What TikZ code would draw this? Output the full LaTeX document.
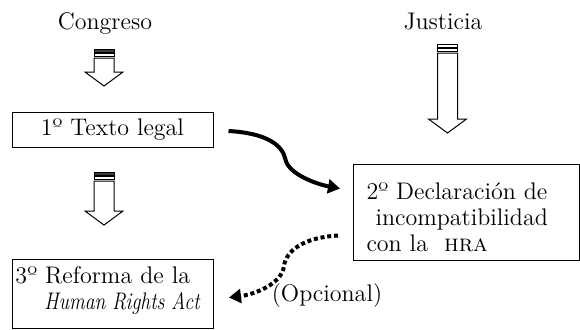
\documentclass[tikz,border=0pt]{standalone}
\usepackage{graphicx}
\usepackage{tikz}
\usetikzlibrary{arrows.meta,calc}
\definecolor{bandagris}{RGB}{60,60,60}

\tikzset{
  caja/.style={draw,line width=0.5pt,inner ysep=0pt,align=left},
  curva/.style={line width=2pt,-{Triangle[length=6pt,width=7pt]}},
  punteada/.style={curva,dash pattern=on 2pt off 1.4pt},
  bloque/.style={draw,line width=0.5pt,fill=white}
}
% flecha de bloque: x, arriba, punta, relleno de la banda
\newcommand{\flecha}[4]{%
  \draw[bloque,fill=#4] (#1-10,#2) rectangle (#1+10,#2+3);
  \draw[bloque] (#1-10,#2+4) rectangle (#1+10,#2+7);
  \draw[bloque] (#1-10,#2+9) -- (#1+10,#2+9) -- (#1+10,#3-14) -- (#1+19,#3-14)
    -- (#1,#3) -- (#1-19,#3-14) -- (#1-10,#3-14) -- cycle;
}

\begin{document}
\begin{tikzpicture}[x=0.5pt,y=-0.5pt,font=\fontsize{12}{13}\selectfont]
\useasboundingbox (0,0) rectangle (580,329);

\node (congreso) at (105,24) {Congreso};
\node (justicia) at (443,22) {Justicia};

\node [caja,align=center,inner ysep=0pt,minimum width=100.5pt,minimum height=17.5pt]
  (texto) at (112.5,129.5) {1º Texto legal};
\node [caja,anchor=north west,inner xsep=6.5pt,text width=100pt,text height=17.5pt,text depth=30.5pt]
  (declaracion) at (353,164)
  {2º Declaración de\\\hspace*{4.5pt}incompatibilidad\\con la \ \textsc{hra}};
\node [caja,anchor=north west,inner xsep=1.5pt,text width=97.5pt,text height=12pt,text depth=22.5pt]
  (reforma) at (12,259)
  {3º Reforma de la\\\hspace*{14.5pt}\scalebox{0.82}[1]{\emph{Human Rights Act}}};

\flecha{104}{49}{86}{bandagris}
\flecha{104}{172}{225}{bandagris}
\flecha{447.5}{44}{133}{white}

\draw[curva] ($(texto.east)+(15,1.5)$) .. controls +(37,2) and +(-3,-15) .. ($(texto.east)+(72,30)$)
  .. controls +(3,15) and +(-22,-4) .. ($(declaracion.west)+(-13,-24)$);
\draw[punteada] ($(declaracion.west)+(-15,23)$) .. controls +(-35,2) and +(2,-15) .. ($(reforma.east)+(70,-28)$)
  .. controls +(-2,18) and +(25,-3) .. ($(reforma.east)+(15,3.5)$);

\node (opcional) at (327,296) {(Opcional)};
\end{tikzpicture}
\end{document}
